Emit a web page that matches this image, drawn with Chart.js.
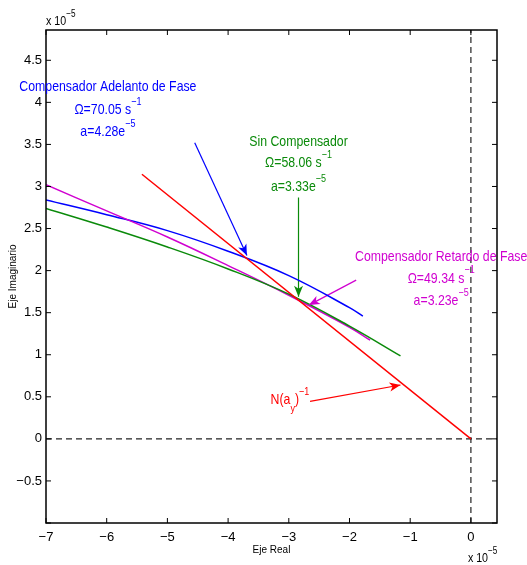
<!DOCTYPE html>
<html>
<head>
<meta charset="utf-8">
<script src="https://cdn.jsdelivr.net/npm/chart.js@4.4.0/dist/chart.umd.min.js"></script>
<style>
  html, body { margin: 0; padding: 0; background: #fff; }
</style>
</head>
<body>
<canvas id="lugarChart" width="527" height="565"></canvas>
<script>
// curves (units of 1e-5)
const sinCompX = [-7, -6, -5, -4, -3, -2, -1.16];
const sinCompY = [2.74, 2.518, 2.281, 2.02, 1.72, 1.34, 0.986];
const adelantoX = [-7, -6, -5, -4, -3, -2, -1.78];
const adelantoY = [2.84, 2.665, 2.475, 2.23, 1.94, 1.56, 1.458];
const retardoX = [-7, -6, -5, -4, -3, -2, -1.66];
const retardoY = [3.02, 2.71, 2.40, 2.06, 1.707, 1.327, 1.173];
const nInvX = [-5.42, 0];
const nInvY = [3.145, 0];

const xTicks = [-7, -6, -5, -4, -3, -2, -1, 0];
const yTicks = [-1, -0.5, 0, 0.5, 1, 1.5, 2, 2.5, 3, 3.5, 4, 4.5];
const xRange = [-7, 0.43];
const yRange = [-1.0, 4.86];

const BLUE = '#0000ff', GREEN = '#0a8a0a', MAGENTA = '#d000d0', RED = '#ff0000';

// arrows: start and tip
const arrowFrom = [[-4.55, 3.52], [-2.84, 2.87], [-1.89, 1.887], [-2.65, 0.446]];
const arrowTo = [[-3.69, 2.18], [-2.84, 1.69], [-2.67, 1.59], [-1.16, 0.64]];
const arrowColors = [BLUE, GREEN, MAGENTA, RED];

// annotation text lines: [x, y, align, color, parts]
const notes = [
  [-5.98, 4.18, 'center', BLUE, [['Compensador Adelanto de Fase', '']]],
  [-5.98, 3.91, 'center', BLUE, [['\u03A9=70.05 s', ''], ['\u22121', 'sup']]],
  [-5.98, 3.65, 'center', BLUE, [['a=4.28e', ''], ['\u22125', 'sup']]],
  [-2.84, 3.53, 'center', GREEN, [['Sin Compensador', '']]],
  [-2.84, 3.28, 'center', GREEN, [['\u03A9=58.06 s', ''], ['\u22121', 'sup']]],
  [-2.84, 2.99, 'center', GREEN, [['a=3.33e', ''], ['\u22125', 'sup']]],
  [-0.49, 2.164, 'center', MAGENTA, [['Compensador Retardo de Fase', '']]],
  [-0.49, 1.907, 'center', MAGENTA, [['\u03A9=49.34 s', ''], ['\u22121', 'sup']]],
  [-0.49, 1.64, 'center', MAGENTA, [['a=3.23e', ''], ['\u22125', 'sup']]],
  [-3.30, 0.458, 'left', RED, [['N(a', ''], ['y', 'sub'], [')', ''], ['\u22121', 'sup']]]
];

const FONT = '"Liberation Sans", Arial, sans-serif';
const SQUEEZE = 0.82; // narrow Helvetica look

function pts(xs, ys) {
  return xs.map((x, i) => ({ x: x, y: ys[i] }));
}

function fmt(v) {
  return String(v).replace('-', '\u2212');
}

const datasets = [
  { data: pts(nInvX, nInvY), borderColor: RED },
  { data: pts(sinCompX, sinCompY), borderColor: GREEN, tension: 0.4 },
  { data: pts(retardoX, retardoY), borderColor: MAGENTA, tension: 0.4 },
  { data: pts(adelantoX, adelantoY), borderColor: BLUE, tension: 0.4 },
  // zero reference lines
  { data: pts(xRange, [0, 0]), borderColor: '#222', borderDash: [6, 4], borderWidth: 1.2 },
  { data: pts([0, 0], yRange), borderColor: '#222', borderDash: [6, 4], borderWidth: 1.2 }
];
arrowFrom.forEach((p, i) => {
  datasets.push({ data: pts([p[0], arrowTo[i][0]], [p[1], arrowTo[i][1]]), borderColor: arrowColors[i], borderWidth: 1.2 });
});
datasets.forEach(d => {
  d.showLine = true;
  d.pointRadius = 0;
  d.fill = false;
  if (!d.borderWidth) d.borderWidth = 1.5;
});

function drawParts(ctx, x, y, align, color, parts, big, small) {
  const widths = parts.map(p => {
    ctx.font = (p[1] ? small : big) + 'px ' + FONT;
    return ctx.measureText(p[0]).width * SQUEEZE;
  });
  const total = widths.reduce((a, b) => a + b, 0);
  let cx = align === 'center' ? x - total / 2 : x;
  ctx.fillStyle = color;
  ctx.textBaseline = 'middle';
  ctx.textAlign = 'left';
  parts.forEach((p, i) => {
    ctx.font = (p[1] ? small : big) + 'px ' + FONT;
    const dy = p[1] === 'sup' ? -big * 0.55 : (p[1] === 'sub' ? big * 0.55 : 0);
    ctx.save();
    ctx.translate(cx, y + dy);
    ctx.scale(SQUEEZE, 1);
    ctx.fillText(p[0], 0, 0);
    ctx.restore();
    cx += widths[i];
  });
}

function arrowHead(ctx, fx, fy, tx, ty, color) {
  const len = Math.hypot(tx - fx, ty - fy);
  const ux = (tx - fx) / len, uy = (ty - fy) / len;
  const nx = -uy, ny = ux;
  const L = 11, W = 4.5, B = 3;
  ctx.fillStyle = color;
  ctx.beginPath();
  ctx.moveTo(tx, ty);
  ctx.lineTo(tx - L * ux + W * nx, ty - L * uy + W * ny);
  ctx.lineTo(tx - (L - B) * ux, ty - (L - B) * uy);
  ctx.lineTo(tx - L * ux - W * nx, ty - L * uy - W * ny);
  ctx.closePath();
  ctx.fill();
}

const decorPlugin = {
  id: 'decor',
  afterDraw(chart) {
    const ctx = chart.ctx;
    const xs = chart.scales.x, ys = chart.scales.y;
    const a = chart.chartArea;
    ctx.save();
    // box
    ctx.strokeStyle = '#000';
    ctx.lineWidth = 1.5;
    ctx.strokeRect(a.left, a.top, a.right - a.left, a.bottom - a.top);
    // inward ticks on all sides
    ctx.lineWidth = 1;
    ctx.beginPath();
    xTicks.forEach(v => {
      const px = xs.getPixelForValue(v);
      ctx.moveTo(px, a.bottom); ctx.lineTo(px, a.bottom - 5);
      ctx.moveTo(px, a.top); ctx.lineTo(px, a.top + 5);
    });
    yTicks.forEach(v => {
      const py = ys.getPixelForValue(v);
      ctx.moveTo(a.left, py); ctx.lineTo(a.left + 5, py);
      ctx.moveTo(a.right, py); ctx.lineTo(a.right - 5, py);
    });
    ctx.stroke();
    // arrow heads
    arrowFrom.forEach((p, i) => {
      arrowHead(ctx, xs.getPixelForValue(p[0]), ys.getPixelForValue(p[1]),
        xs.getPixelForValue(arrowTo[i][0]), ys.getPixelForValue(arrowTo[i][1]), arrowColors[i]);
    });
    // annotation texts
    notes.forEach(n => {
      drawParts(ctx, xs.getPixelForValue(n[0]), ys.getPixelForValue(n[1]), n[2], n[3], n[4], 15, 11);
    });
    // exponent labels
    const x0 = xs.getPixelForValue(0) - 3;
    drawParts(ctx, a.left, 21, 'left', '#000', [['x 10', ''], ['\u22125', 'sup']], 13, 10);
    drawParts(ctx, x0, 558, 'left', '#000', [['x 10', ''], ['\u22125', 'sup']], 13, 10);
    ctx.restore();
  }
};

const ctx = document.getElementById('lugarChart').getContext('2d');
new Chart(ctx, {
  type: 'scatter',
  data: { datasets: datasets },
  plugins: [decorPlugin],
  options: {
    responsive: false,
    animation: false,
    devicePixelRatio: 1,
    layout: { padding: { top: 30, right: 30, left: 0, bottom: 0 } },
    plugins: { legend: { display: false }, tooltip: { enabled: false } },
    scales: {
      x: {
        type: 'linear',
        min: xRange[0],
        max: xRange[1],
        grid: { display: false, drawTicks: false },
        border: { display: false },
        afterBuildTicks: s => { s.ticks = xTicks.map(v => ({ value: v })); },
        afterFit: s => { s.height = 42; },
        ticks: {
          padding: 7,
          color: '#000',
          font: { family: FONT, size: 13 },
          callback: v => fmt(v)
        },
        title: {
          display: true,
          text: 'Eje Real',
          color: '#000',
          font: { family: FONT, size: 10 },
          padding: { top: 0, bottom: 9 }
        }
      },
      y: {
        type: 'linear',
        min: yRange[0],
        max: yRange[1],
        grid: { display: false, drawTicks: false },
        border: { display: false },
        afterBuildTicks: s => { s.ticks = yTicks.map(v => ({ value: v })); },
        afterFit: s => { s.width = 46; },
        ticks: {
          padding: 4,
          color: '#000',
          font: { family: FONT, size: 13 },
          callback: v => (v <= -1 ? '' : fmt(v))
        },
        title: {
          display: true,
          text: 'Eje Imaginario',
          color: '#000',
          font: { family: FONT, size: 10 },
          padding: { top: 7, bottom: 0 }
        }
      }
    }
  }
});
</script>
</body>
</html>
